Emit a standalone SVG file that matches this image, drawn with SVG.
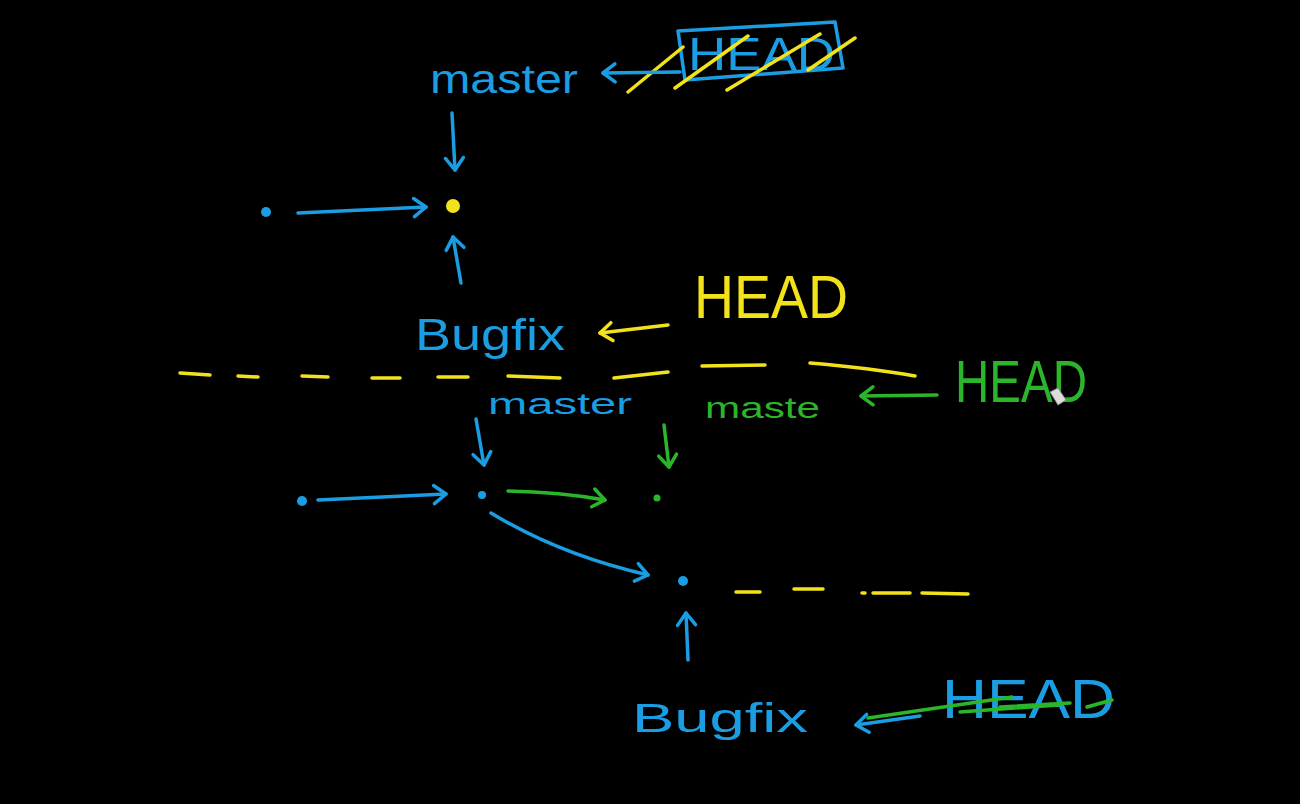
<svg xmlns="http://www.w3.org/2000/svg" width="1300" height="804" viewBox="0 0 1300 804">
<defs>
<style>
.bl{stroke:#1a9de2;}
.yl{stroke:#f2e21c;}
.gr{stroke:#2bb52b;}
.ln{fill:none;stroke-width:3.5;stroke-linecap:round;stroke-linejoin:round;}
.t{font-family:"Liberation Sans",Arial,sans-serif;}
.tb{fill:#1a9de2;}
.ty{fill:#f2e21c;}
.tg{fill:#2bb52b;}
</style>
<marker id="ab" markerUnits="userSpaceOnUse" markerWidth="30" markerHeight="30" refX="15" refY="15" orient="auto" viewBox="0 0 30 30"><path d="M3,6 L15,15 L3,24" fill="none" stroke="#1a9de2" stroke-width="3.5" stroke-linecap="round" stroke-linejoin="round"/></marker>
<marker id="ay" markerUnits="userSpaceOnUse" markerWidth="30" markerHeight="30" refX="15" refY="15" orient="auto" viewBox="0 0 30 30"><path d="M3,6 L15,15 L3,24" fill="none" stroke="#f2e21c" stroke-width="3.5" stroke-linecap="round" stroke-linejoin="round"/></marker>
<marker id="ag" markerUnits="userSpaceOnUse" markerWidth="30" markerHeight="30" refX="15" refY="15" orient="auto" viewBox="0 0 30 30"><path d="M3,6 L15,15 L3,24" fill="none" stroke="#2bb52b" stroke-width="3.5" stroke-linecap="round" stroke-linejoin="round"/></marker>
</defs>
<rect width="1300" height="804" fill="#000"/>

<g id="top-master"><text class="t tb" x="430" y="93" font-size="40" textLength="148" lengthAdjust="spacingAndGlyphs">master</text></g>
<g id="top-head">
<path class="ln bl" d="M678,31 L835,22 L843,68 L685,80 Z"/>
<text class="t tb" x="688" y="70" font-size="46" textLength="147" lengthAdjust="spacingAndGlyphs">HEAD</text>
<path class="ln yl" d="M628,92 L683,47 M675,88 L748,36 M727,90 L820,34 M808,70 L855,38"/>
</g>
<g id="top-commit-a"><circle cx="266" cy="212" r="5" fill="#1a9de2"/></g>
<g id="top-commit-b"><circle cx="453" cy="206" r="7" fill="#f2e21c"/></g>
<g id="top-bugfix"><text class="t tb" x="415" y="350" font-size="44" textLength="150" lengthAdjust="spacingAndGlyphs">Bugfix</text></g>
<g id="top-head-yellow"><text class="t ty" x="694" y="318" font-size="62" textLength="154" lengthAdjust="spacingAndGlyphs">HEAD</text></g>

<g id="separator">
<path class="ln yl" d="M180,373 L210,375 M238,376 L258,377 M302,376 L328,377 M372,378 L400,378 M438,377 L468,377 M508,376 L560,378 M614,378 L668,372 M702,366 L765,365 M810,363 Q870,368 915,376"/>
</g>

<g id="mid-master"><text class="t tb" x="488" y="414" font-size="30" textLength="144" lengthAdjust="spacingAndGlyphs">master</text></g>
<g id="mid-maste"><text class="t tg" x="705" y="418" font-size="30" textLength="115" lengthAdjust="spacingAndGlyphs">maste</text></g>
<g id="mid-head"><text class="t tg" x="955" y="402" font-size="60" textLength="132" lengthAdjust="spacingAndGlyphs">HEAD</text></g>
<g id="cursor"><path d="M1050,392 L1058,388 L1066,400 L1058,405 Z" fill="#ddd" stroke="#888" stroke-width="1"/></g>
<g id="commit-1"><circle cx="302" cy="501" r="5" fill="#1a9de2"/></g>
<g id="commit-2"><circle cx="482" cy="495" r="4" fill="#1a9de2"/></g>
<g id="commit-3"><circle cx="657" cy="498" r="3.5" fill="#2bb52b"/></g>
<g id="commit-4"><circle cx="683" cy="581" r="5" fill="#1a9de2"/></g>
<g id="bottom-dashes"><path class="ln yl" d="M736,592 L760,592 M794,589 L823,589 M862,593 L865,593 M873,593 L910,593 M922,593 L968,594"/></g>
<g id="bottom-bugfix"><text class="t tb" x="632" y="732" font-size="40" textLength="176" lengthAdjust="spacingAndGlyphs">Bugfix</text></g>
<g id="bottom-head">
<text class="t tb" x="942" y="718" font-size="56" textLength="173" lengthAdjust="spacingAndGlyphs">HEAD</text>
<path class="ln gr" d="M868,718 L1012,697 M960,712 L1058,705 M1000,707 L1070,703 M1087,707 L1112,700"/>
</g>

<g id="connectors">
<path class="ln bl" d="M680,72 L603,73" marker-end="url(#ab)"/>
<path class="ln bl" d="M452,113 L455,170" marker-end="url(#ab)"/>
<path class="ln bl" d="M298,213 L426,207" marker-end="url(#ab)"/>
<path class="ln bl" d="M461,283 L453,237" marker-end="url(#ab)"/>
<path class="ln yl" d="M668,325 L600,333" marker-end="url(#ay)"/>
<path class="ln gr" d="M937,395 L861,396" marker-end="url(#ag)"/>
<path class="ln bl" d="M476,419 L484,465" marker-end="url(#ab)"/>
<path class="ln gr" d="M664,425 L669,467" marker-end="url(#ag)"/>
<path class="ln bl" d="M318,500 L446,494" marker-end="url(#ab)"/>
<path class="ln gr" d="M508,491 Q560,492 605,500" marker-end="url(#ag)"/>
<path class="ln bl" d="M491,513 Q560,555 648,575" marker-end="url(#ab)"/>
<path class="ln bl" d="M688,660 L686,613" marker-end="url(#ab)"/>
<path class="ln bl" d="M920,716 L856,725" marker-end="url(#ab)"/>
</g>
</svg>
